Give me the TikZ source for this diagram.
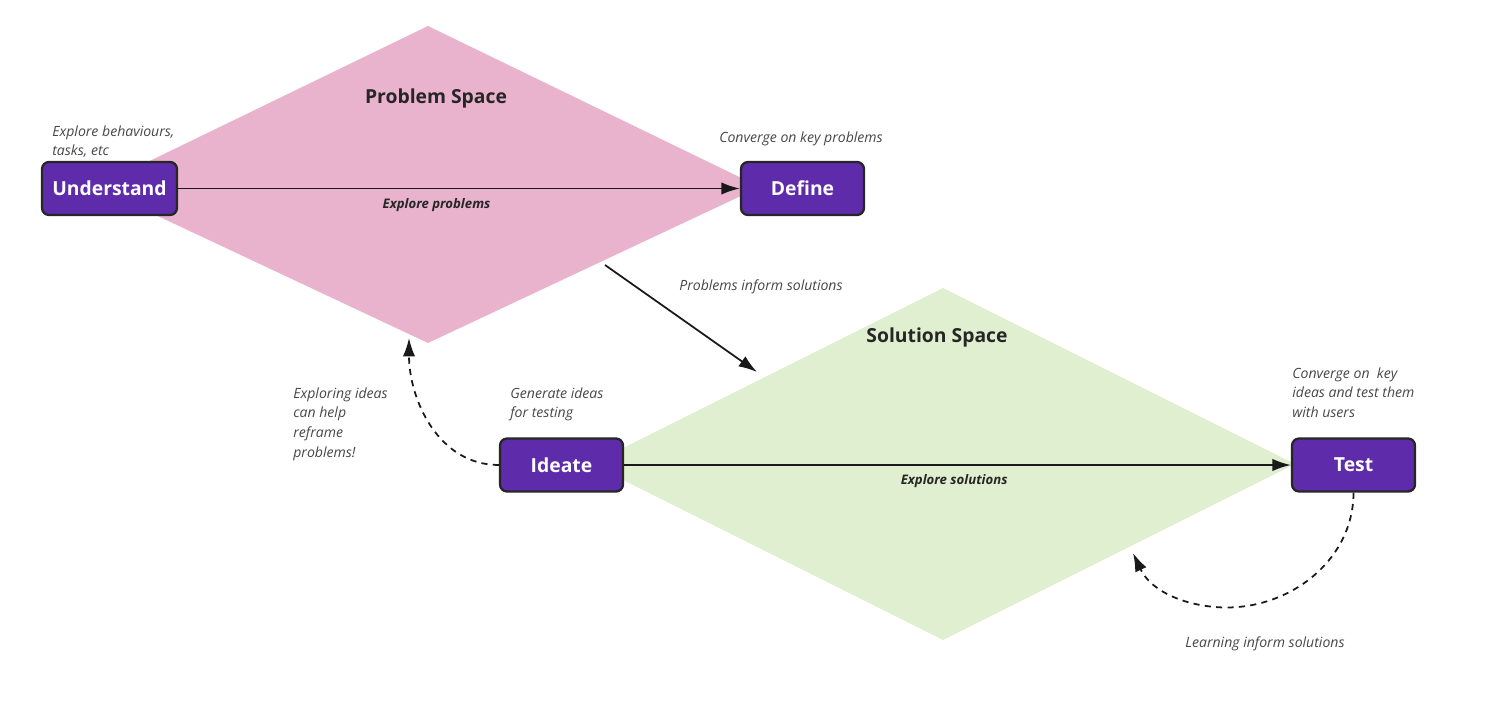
\documentclass[tikz,border=0pt]{standalone}
\usepackage{fontspec}
\setmainfont{Open Sans}
\usetikzlibrary{arrows.meta,positioning}
\definecolor{stagepurple}{HTML}{5E2CAA}
\definecolor{problempink}{HTML}{E9B3CE}
\definecolor{solutiongreen}{HTML}{DFEFCF}

\begin{document}
\begin{tikzpicture}[x=0.02cm, y=-0.02cm,
	stage/.style={draw=black!85, line width=1.3pt, fill=stagepurple, rounded corners=4pt,
		text=white, font=\fontsize{11}{13}\selectfont\bfseries,
		minimum width=2.46cm, minimum height=1.06cm, inner sep=0pt},
	note/.style={font=\fontsize{8}{11.3}\selectfont\itshape, text=black!72, align=left, inner sep=0pt},
	spacelabel/.style={font=\fontsize{11}{13}\selectfont\bfseries, text=black!85, inner sep=0pt},
	flowlabel/.style={font=\fontsize{7.5}{9}\selectfont\bfseries\itshape, text=black!85, inner sep=0pt},
	flow/.style={-{Latex[length=10.5pt,width=7pt]}, line width=1pt, black!90},
	feedback/.style={flow, dash pattern=on 3.5pt off 3pt},
	]
	
	\useasboundingbox (0,0) rectangle (1510,709);
	
	% Problem space
	\coordinate (pT) at (428,26);
	\coordinate (pR) at (760,187);
	\coordinate (pB) at (428,343);
	\coordinate (pL) at (96,187);
	\fill[problempink] (pT) -- (pR) -- (pB) -- (pL) -- cycle;
	
	% Solution space
	\coordinate (sT) at (943,288);
	\coordinate (sR) at (1295,464);
	\coordinate (sB) at (943,640);
	\coordinate (sL) at (591,464);
	\fill[solutiongreen] (sT) -- (sR) -- (sB) -- (sL) -- cycle;
	
	\node[spacelabel] (problemspace) at (436,98) {Problem Space};
	\node[spacelabel] (solutionspace) at (937,337) {Solution Space};
	
	% Stages
	\node[stage, minimum width=2.7cm] (understand) at (109.5,188.5) {Understand};
	\node[stage] (define) at (802.5,188.5) {Define};
	\node[stage] (ideate) at (561.5,465) {Ideate};
	\node[stage] (test) at (1353.5,465) {Test};
	
	% Flows
	\draw[flow] (understand) -- (define)
	node[flowlabel, pos=0.46, below=5pt] (exploreproblems) {Explore problems};
	\draw[flow] (ideate) -- (test)
	node[flowlabel, pos=0.495, below=5pt] (exploresolutions) {Explore solutions};
	
	\coordinate (informstart) at (605,265);
	\coordinate (informend) at (757,372);
	\draw[flow] (informstart) -- (informend);
	
	% Feedback loops
	\coordinate (reframeend) at (409,338);
	\draw[feedback] (ideate.west) to[out=180, in=-90] (reframeend);
	\coordinate (learnend) at (1133,553);
	\draw[feedback] (test.south) to[out=-90, in=-5] (1215,607) to[out=175, in=-65] (learnend);
	
	% Notes
	\node[note, anchor=north west] (behaviours) at (52,125) {Explore behaviours,\\tasks, etc};
	\node[note] (convergeproblems) at (801,139) {Converge on key problems};
	\node[note] (problemsinform) at (761,287) {Problems inform solutions};
	\node[note, anchor=north west] (reframe) at (293,387) {Exploring ideas\\can help\\reframe\\problems!};
	\node[note, anchor=north west] (generate) at (510,387) {Generate ideas\\for testing};
	\node[note, anchor=north west] (convergeideas) at (1292,367) {Converge on\ \ key\\ideas and test them\\with users};
	\node[note] (learning) at (1265,644) {Learning inform solutions};
	
\end{tikzpicture}
\end{document}
